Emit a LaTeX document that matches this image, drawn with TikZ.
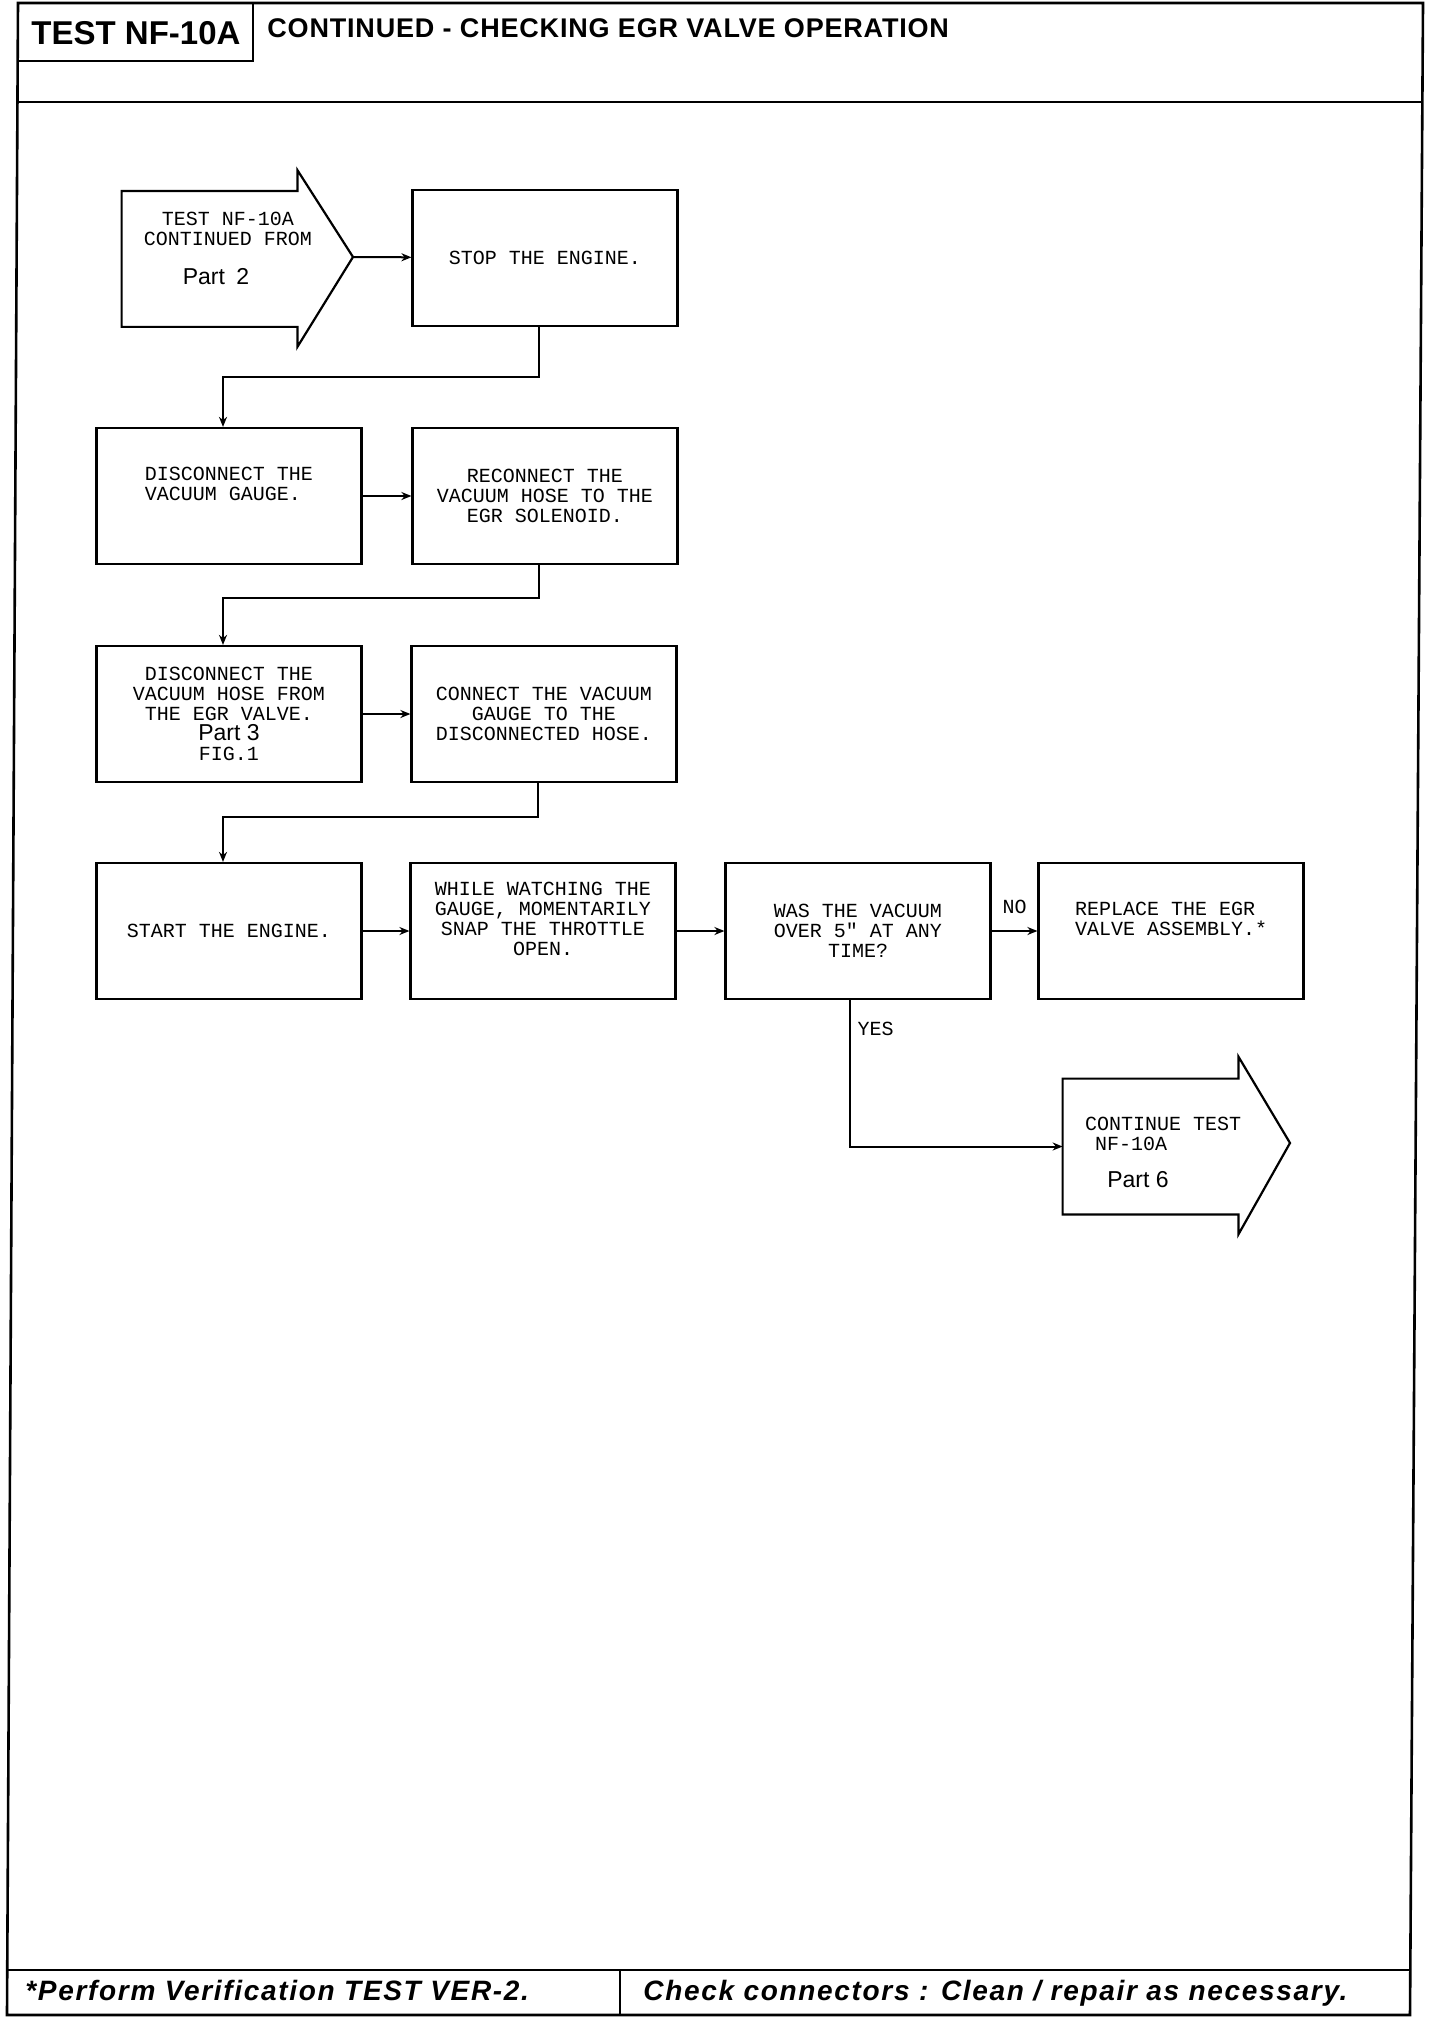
\documentclass[tikz,border=0pt]{standalone}
\usepackage{fontspec}
\setmainfont{Liberation Sans}
\newfontfamily\plotfont{Liberation Mono}
\newfontfamily\titlefont[LetterSpace=3]{Liberation Sans}
\newfontfamily\footfont[LetterSpace=6]{Liberation Sans}
\usepackage{tikz}
\usetikzlibrary{arrows.meta,positioning,calc}

\begin{document}
\begin{tikzpicture}[auto, x=0.5pt, y=-0.5pt, >={Stealth[length=5pt,width=4pt]},
  box/.style={draw, line width=1.1pt, minimum width=132.5pt, minimum height=68pt,
    inner sep=0pt, align=center, font=\plotfont\fontsize{10}{10}\selectfont},
  body/.style={minimum width=87.5pt, minimum height=67.5pt, inner sep=0pt},
  txt/.style={align=center, font=\plotfont\fontsize{10}{10}\selectfont},
  partfont/.style={font=\fontsize{11.5}{12}\selectfont},
  boxline/.style={line width=1.1pt, line join=miter},
  wire/.style={line width=1pt},
  pageline/.style={line width=1.3pt}]

  \useasboundingbox (0,0) rectangle (1440,2022);

  % Page frame, header and footer
  \coordinate (TL) at (18,3);
  \coordinate (TR) at (1423,3);
  \coordinate (BR) at (1410,2015);
  \coordinate (BL) at (7,2015);
  \draw[pageline] (TL) -- (TR) -- (BR) -- (BL) -- cycle;
  \draw[pageline] ($(TL)!0.0492!(BL)$) -- ($(TR)!0.0492!(BR)$);
  \draw[pageline] ($(TL)!0.9776!(BL)$) -- ($(TR)!0.9776!(BR)$);
  \draw[pageline] (253,3) -- (253,61) -- (18,61);
  \draw[pageline] (620,1970) -- (620,2015);

  \node[anchor=base, font=\bfseries\fontsize{16.5}{18}\selectfont] (hd) at (136,45) {TEST NF-10A};
  \node[anchor=base west, inner sep=0pt, font=\titlefont\bfseries\fontsize{13.5}{15}\selectfont] (title) at (267,38)
    {CONTINUED - CHECKING EGR VALVE OPERATION};
  \node[anchor=base west, inner sep=0pt, font=\footfont\bfseries\itshape\fontsize{14}{16}\selectfont] (f1) at (25,2000)
    {*Perform Verification TEST VER-2.};
  \node[anchor=base west, inner sep=0pt, font=\footfont\bfseries\itshape\fontsize{14}{16}\selectfont] (f2) at (643,2000)
    {Check connectors : Clean / repair as necessary.};

  % Define coordinates for nodes
  \node[body] (P2) at (209.5,259) {};
  \coordinate (P2tip) at (353,257);
  \draw[boxline] (P2.north east) -- (P2.north west) -- (P2.south west) -- (P2.south east)
    -- ++(0,20) -- (P2tip) -- ($(P2.north east)+(0,-21)$) -- cycle;
  \node[txt] (P2a) at (228,229) {TEST NF-10A\\CONTINUED FROM};
  \node[partfont] (P2b) at (216,277) {Part\enspace 2};

  \node[box] (A) at (545,258) {STOP THE ENGINE.};
  \node[box, align=left] (B) at (229,496) {DISCONNECT THE\\VACUUM GAUGE.\\[2pt]\mbox{}};
  \node[box] (Bp) at (545,496) {RECONNECT THE\\VACUUM HOSE TO THE\\EGR SOLENOID.};
  \node[box] (C) at (229,714) {DISCONNECT THE\\VACUUM HOSE FROM\\THE EGR VALVE.\\{\fontsize{11.5}{12}\selectfont\rmfamily Part 3}\\FIG.1};
  \node[box] (Cp) at (544,714) {CONNECT THE VACUUM\\GAUGE TO THE\\DISCONNECTED HOSE.};
  \node[box] (D) at (229,931) {START THE ENGINE.};
  \node[box] (Dp) at (543,931) {WHILE WATCHING THE\\GAUGE, MOMENTARILY\\SNAP THE THROTTLE\\OPEN.\\[2pt]\mbox{}};
  \node[box] (Q) at (858,931) {WAS THE VACUUM\\OVER 5" AT ANY\\TIME?};
  \node[box, align=left] (R) at (1171,931) {REPLACE THE EGR\\VALVE ASSEMBLY.*\\[2pt]\mbox{}};

  \node[body] (P6) at (1150.5,1146.5) {};
  \coordinate (P6tip) at (1290,1143);
  \draw[boxline] (P6.north east) -- (P6.north west) -- (P6.south west) -- (P6.south east)
    -- ++(0,20) -- (P6tip) -- ($(P6.north east)+(0,-22)$) -- cycle;
  \node[txt, align=left] (P6a) at (1163,1134) {CONTINUE TEST\\\hspace*{5pt}NF-10A};
  \node[partfont] (P6b) at (1138,1180) {Part 6};

  % Draw arrows between nodes
  \draw[->, wire] (P2tip) -- (A);
  \draw[->, wire] ([xshift=-3pt]A.south) -- ++(0,50) -| ([xshift=-3pt]B.north);
  \draw[->, wire] (B) -- (Bp);
  \draw[->, wire] ([xshift=-3pt]Bp.south) -- ++(0,33) -| ([xshift=-3pt]C.north);
  \draw[->, wire] (C) -- (Cp);
  \draw[->, wire] ([xshift=-3pt]Cp.south) -- ++(0,34) -| ([xshift=-3pt]D.north);
  \draw[->, wire] (D) -- (Dp);
  \draw[->, wire] (Dp) -- (Q);
  \draw[->, wire] (Q) -- node[above=5pt, txt] {NO} (R);
  \draw[->, wire] ([xshift=-4pt]Q.south) |- node[pos=0.1, right, txt] {YES} (P6.west);
\end{tikzpicture}
\end{document}
